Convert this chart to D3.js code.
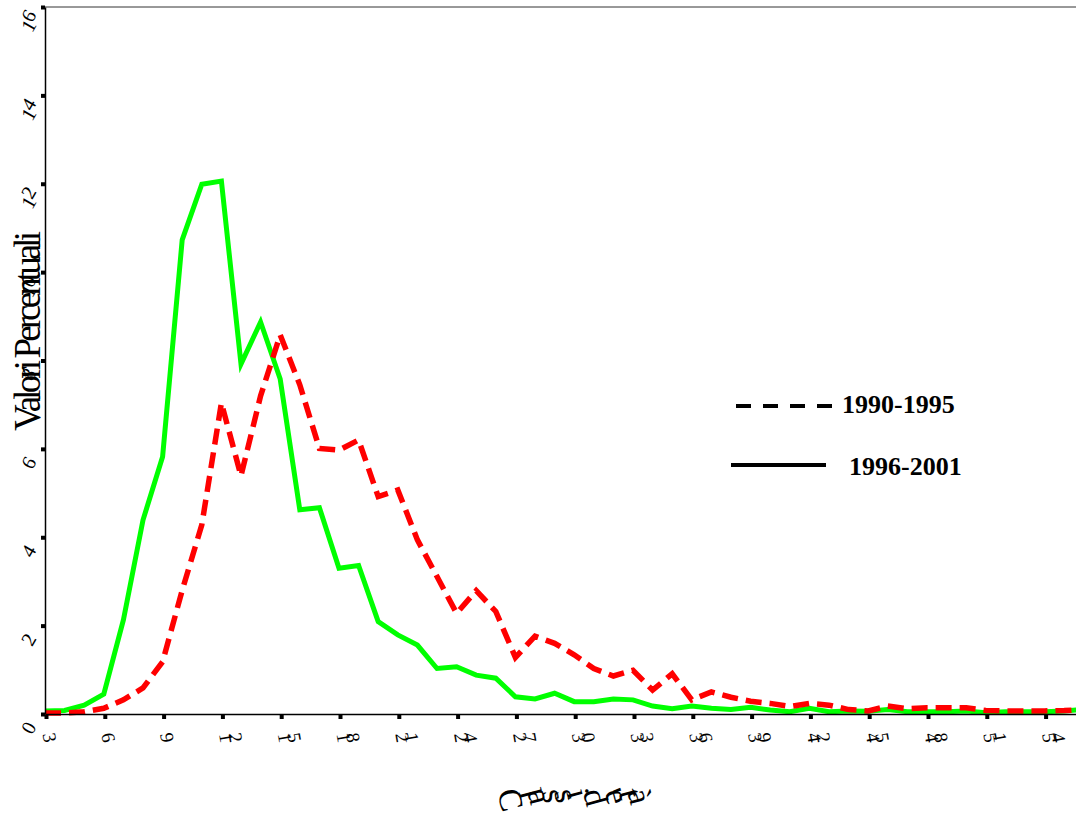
<!DOCTYPE html>
<html>
<head>
<meta charset="utf-8">
<script src="https://cdn.jsdelivr.net/npm/d3@7"></script>
<style>
  body { margin: 0; background: #fff; }
  svg { display: block; }
</style>
</head>
<body>
<div id="chart"></div>
<script>
// classes on the x axis (3 .. 56)
let classes = d3.range(3, 57)

// 1990-1995, red dashed
let period1 = [0.02, 0.02, 0.05, 0.13, 0.32, 0.59, 1.18, 2.8, 4.28, 7.04,
    5.39, 7.2, 8.58, 7.45, 6.01, 5.97, 6.2, 4.92, 5.07, 3.94,
    3.11, 2.28, 2.79, 2.32, 1.28, 1.76, 1.6, 1.34, 1.03, 0.86,
    0.99, 0.54, 0.91, 0.32, 0.5, 0.38, 0.29, 0.24, 0.17, 0.24,
    0.2, 0.1, 0.07, 0.18, 0.12, 0.14, 0.14, 0.14, 0.08, 0.07,
    0.07, 0.07, 0.08, 0.1]

// 1996-2001, green solid
let period2 = [0.07, 0.08, 0.2, 0.45, 2.13, 4.39, 5.82, 10.73, 11.99, 12.06,
    7.92, 8.87, 7.58, 4.62, 4.67, 3.3, 3.36, 2.09, 1.79, 1.56,
    1.03, 1.07, 0.88, 0.81, 0.39, 0.34, 0.47, 0.28, 0.28, 0.34,
    0.32, 0.18, 0.12, 0.18, 0.13, 0.1, 0.15, 0.09, 0.05, 0.13,
    0.05, 0.07, 0.06, 0.1, 0.05, 0.05, 0.05, 0.07, 0.03, 0.05,
    0.05, 0.05, 0.07, 0.1]

let xTicks = d3.range(3, 55, 3)
let yTicks = d3.range(0, 17, 2)
let legendLabels = ["1990-1995", "1996-2001"]

const svgWidth = 1076, svgHeight = 825
const margin = {left: 45, top: 7, right: 0, bottom: 111}
const width = svgWidth - margin.left - margin.right
const height = svgHeight - margin.top - margin.bottom

let svg = d3.select('#chart')
    .append('svg')
    .attr('width', svgWidth)
    .attr('height', svgHeight)

let chart = svg.append('g')
    .attr('transform', `translate(${margin.left},${margin.top})`)

let xScale = d3.scaleLinear()
    .domain([3, 3 + width / 19.6])
    .range([0, width])

let yScale = d3.scaleLinear()
    .domain([0, 16])
    .range([height, 0])

svg.append('defs').append('clipPath')
    .attr('id', 'plot-clip')
    .append('rect')
    .attr('x', -3).attr('y', -5)
    .attr('width', width + 3).attr('height', height + 10)

// frame: top border
chart.append('line')
    .attr('x1', 0).attr('x2', width)
    .attr('y1', 0).attr('y2', 0)
    .attr('stroke', '#333')
    .attr('stroke-width', 1)

let line = d3.line()
    .x((d, i) => xScale(classes[i]))
    .y(d => yScale(d))

let lines = chart.append('g').attr('clip-path', 'url(#plot-clip)')

lines.append('path')
    .datum(period2)
    .attr('d', line)
    .attr('fill', 'none')
    .attr('stroke', '#00ff00')
    .attr('stroke-width', 5)
    .attr('stroke-linejoin', 'miter')

lines.append('path')
    .datum(period1)
    .attr('d', line)
    .attr('fill', 'none')
    .attr('stroke', '#ff0000')
    .attr('stroke-width', 5.5)
    .attr('stroke-dasharray', '16,8')
    .attr('stroke-linejoin', 'miter')

// axes
let xAxisGroup = chart.append('g')
    .attr('transform', `translate(0,${height})`)
    .call(d3.axisBottom(xScale).tickValues(xTicks).tickSize(0).tickFormat(''))

xAxisGroup.select('.domain').attr('stroke', '#000').attr('stroke-width', 1.5)

xAxisGroup.selectAll('.tick')
    .append('rect')
    .attr('x', -1).attr('y', 1)
    .attr('width', 4).attr('height', 4)
    .attr('fill', '#000')

xAxisGroup.selectAll('.tick')
    .append('text')
    .attr('x', -3)
    .attr('y', 20)
    .attr('fill', '#000')
    .attr('text-anchor', 'start')
    .attr('font-family', 'Liberation Serif, serif')
    .attr('font-size', 19)
    .attr('rotate', 80)
    .text(d => d)

let yAxisGroup = chart.append('g')
    .call(d3.axisLeft(yScale).tickValues(yTicks).tickSize(0).tickFormat(''))

yAxisGroup.select('.domain').attr('stroke', '#000').attr('stroke-width', 1.5)

yAxisGroup.selectAll('.tick')
    .append('rect')
    .attr('x', -4).attr('y', -2)
    .attr('width', 4).attr('height', 4)
    .attr('fill', '#000')

yAxisGroup.selectAll('.tick')
    .append('text')
    .attr('transform', 'translate(-13,16) rotate(-90)')
    .attr('fill', '#000')
    .attr('text-anchor', 'middle')
    .attr('font-family', 'Liberation Serif, serif')
    .attr('font-size', 20)
    .attr('rotate', 30)
    .text(d => d)

// axis titles
svg.append('text')
    .attr('transform', 'translate(40,331) rotate(-90)')
    .attr('text-anchor', 'middle')
    .attr('font-family', 'Liberation Serif, serif')
    .attr('font-size', 37)
    .attr('textLength', 200)
    .attr('lengthAdjust', 'spacing')
    .attr('fill', '#000')
    .text('Valori Percentuali')

svg.append('text')
    .attr('x', 497)
    .attr('y', 792)
    .attr('font-family', 'Liberation Serif, serif')
    .attr('font-size', 33)
    .attr('textLength', 145)
    .attr('lengthAdjust', 'spacing')
    .attr('rotate', 75)
    .attr('fill', '#000')
    .text("Classi d'età")

// legend
let legend = svg.append('g')

legend.append('line')
    .attr('x1', 736).attr('x2', 832)
    .attr('y1', 406).attr('y2', 406)
    .attr('stroke', '#000')
    .attr('stroke-width', 4)
    .attr('stroke-dasharray', '15,12')

legend.append('line')
    .attr('x1', 731).attr('x2', 826)
    .attr('y1', 465).attr('y2', 465)
    .attr('stroke', '#000')
    .attr('stroke-width', 4)

legend.selectAll('text')
    .data(legendLabels)
    .join('text')
    .attr('x', (d, i) => i == 0 ? 842 : 849)
    .attr('y', (d, i) => i == 0 ? 413 : 475)
    .attr('font-family', 'Liberation Serif, serif')
    .attr('font-weight', 'bold')
    .attr('font-size', 26)
    .attr('fill', '#000')
    .text(d => d)
</script>
</body>
</html>
